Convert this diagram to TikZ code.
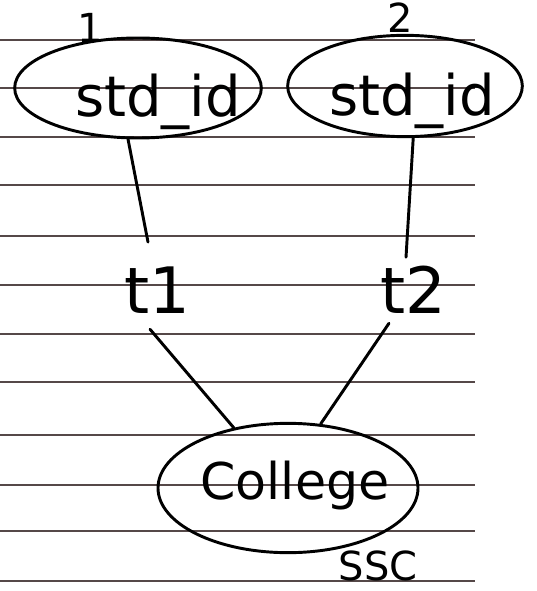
\documentclass[tikz,border=0pt]{standalone}
\usepackage{fontspec}
\setmainfont{DejaVu Sans}
\usetikzlibrary{shapes.geometric,calc}
\definecolor{rule}{RGB}{85,72,72}
\tikzset{
  ink/.style={line width=2.2pt, line cap=round, line join=round, black},
  blob/.style={ink, draw, ellipse, inner sep=0pt},
  handtext/.style={inner sep=0pt, anchor=base, text=black},
  ruled/.style={line width=0.9pt, rule}
}
\begin{document}
\begin{tikzpicture}[x=0.75pt,y=-0.75pt]
\useasboundingbox[fill=white] (0,0) rectangle (536,591);
% ruled paper lines
\foreach \yy in {40,88,137,185,236,285,334,382,435,485,531,581}
  \draw[ruled] (0,\yy) -- (475,\yy);
% entity ellipses
\node[blob, minimum width=185pt, minimum height=75pt] (e1) at (138,88) {};
\node[blob, minimum width=176pt, minimum height=76pt] (e2) at (405,86) {};
\node[blob, minimum width=195pt, minimum height=97pt] (c) at (288,488) {};
% texts
\node[handtext, font=\fontsize{42pt}{46pt}\selectfont] (s1) at (158,117) {std\_id};
\node[handtext, font=\fontsize{42pt}{46pt}\selectfont] (s2) at (412,116) {std\_id};
\node[handtext, font=\fontsize{30pt}{34pt}\selectfont] (n1) at (90,43) {1};
\node[handtext, font=\fontsize{30pt}{34pt}\selectfont] (n2) at (400,33) {2};
\node[handtext, font=\fontsize{48pt}{52pt}\selectfont] (t1) at (157,313) {t1};
\node[handtext, font=\fontsize{48pt}{52pt}\selectfont] (t2) at (413,313) {t2};
\node[handtext, font=\fontsize{38pt}{42pt}\selectfont] (col) at (295,499) {College};
\node[handtext, font=\fontsize{30pt}{34pt}\selectfont] (ssc) at (378,580) {SSC};
% connectors
\draw[ink] (e1.-101) -- ($(t1.north)+(-9,-24)$);
\draw[ink] (e2.-81) -- ($(t2.north)+(-7,-8)$);
\draw[ink] ($(t1.south)+(-7,16)$) -- (c.132);
\draw[ink] ($(t2.south)+(-24,10)$) -- (c.63);
\end{tikzpicture}
\end{document}
